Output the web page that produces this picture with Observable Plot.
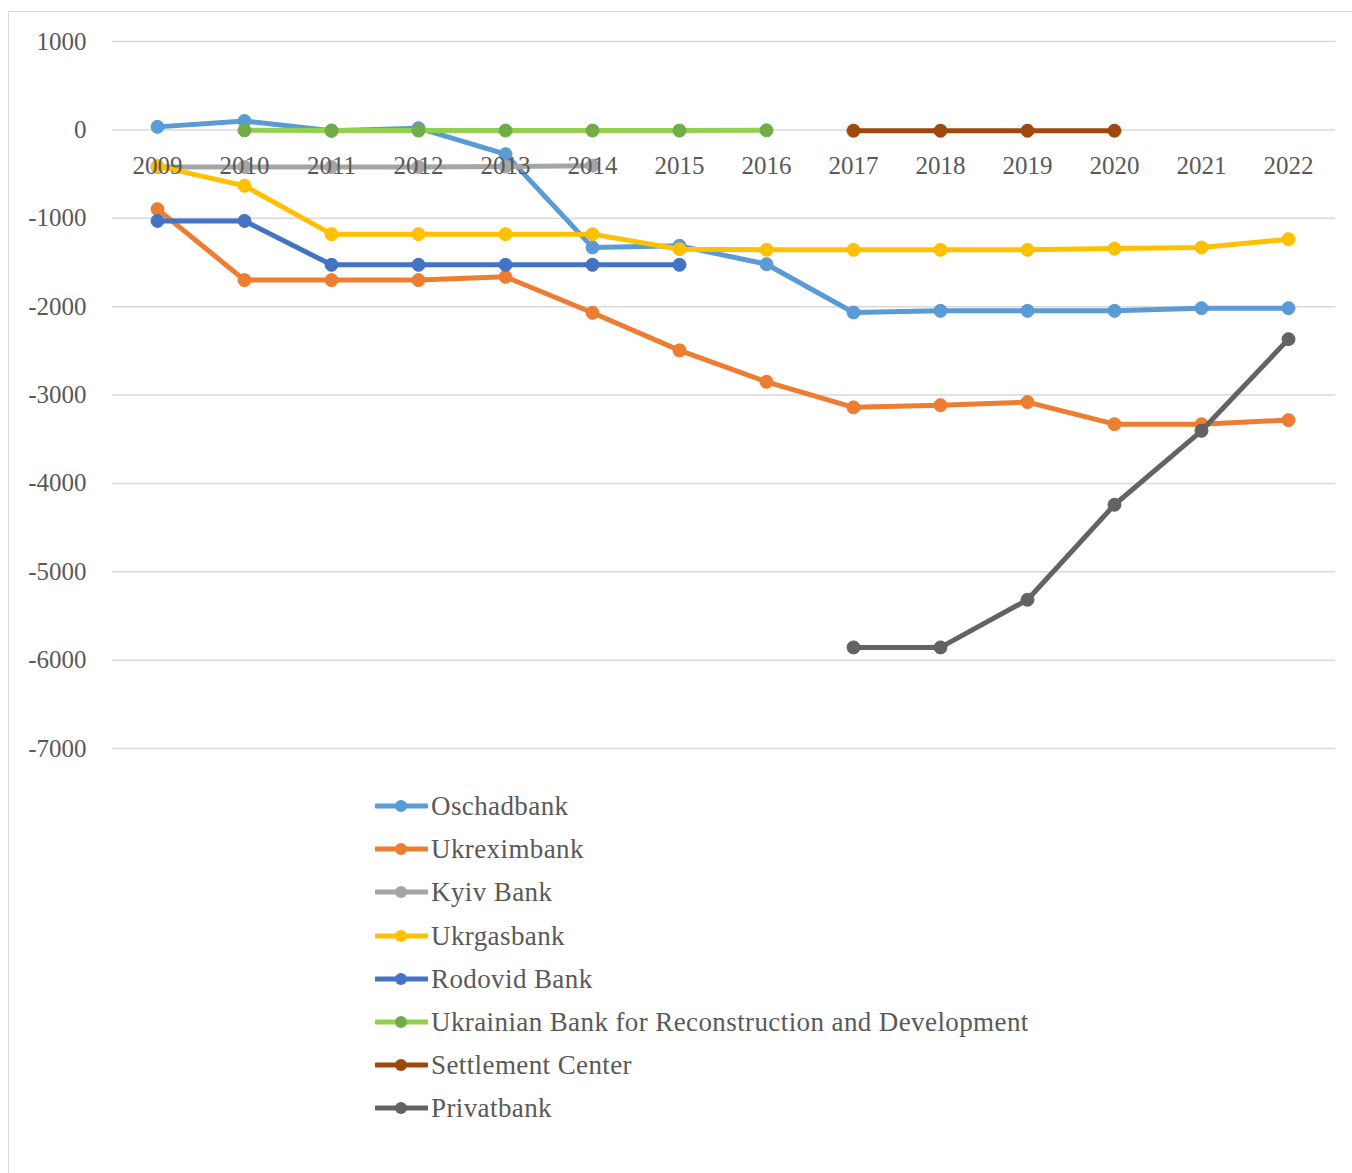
<!DOCTYPE html>
<html>
<head>
<meta charset="utf-8">
<script src="https://cdn.jsdelivr.net/npm/d3@7"></script>
<script src="https://cdn.jsdelivr.net/npm/@observablehq/plot@0.6"></script>
<style>
  html, body { margin: 0; padding: 0; background: #fff; overflow: hidden; }
  body { width: 1352px; height: 1173px; position: relative; font-family: "Liberation Serif", serif; }
  #frame { position: absolute; left: 8px; top: 11px; width: 1400px; height: 1250px; border: 1.5px solid #d9d9d9; box-sizing: border-box; }
  #chart { position: absolute; left: 0; top: 0; }
  #legend { position: absolute; left: 0; top: 0; }
  .lg { position: absolute; left: 375px; height: 28px; display: flex; align-items: center; white-space: nowrap; }
  .lg span { font-size: 27px; letter-spacing: 0.4px; color: #595959; margin-left: 3px; line-height: 28px; }
</style>
</head>
<body>
<div id="frame"></div>
<div id="chart"></div>
<div id="legend"></div>
<script>
const years = [2009, 2010, 2011, 2012, 2013, 2014, 2015, 2016, 2017, 2018, 2019, 2020, 2021, 2022];
const yTicks = [1000, 0, -1000, -2000, -3000, -4000, -5000, -6000, -7000];

const bankNames = ["Oschadbank", "Ukreximbank", "Kyiv Bank", "Ukrgasbank", "Rodovid Bank",
  "Ukrainian Bank for Reconstruction and Development", "Settlement Center", "Privatbank"];
const lineColors = ["#5B9BD5", "#ED7D31", "#A5A5A5", "#FFC000", "#4472C4", "#92D050", "#9E480E", "#636363"];
const markerColors = ["#5B9BD5", "#ED7D31", "#A5A5A5", "#FFC000", "#4472C4", "#70AD47", "#9E480E", "#636363"];

const oschadbank  = [34, 100, -11, 19, -275, -1330, -1312, -1520, -2066, -2048, -2048, -2048, -2017, -2017];
const ukreximbank = [-897, -1700, -1700, -1700, -1663, -2070, -2495, -2851, -3140, -3115, -3080, -3330, -3330, -3284];
const kyivBank    = [-420, -420, -420, -420, -415, -405, null, null, null, null, null, null, null, null];
const ukrgasbank  = [-410, -633, -1180, -1180, -1180, -1180, -1350, -1357, -1357, -1357, -1357, -1343, -1331, -1237];
const rodovidBank = [-1030, -1030, -1527, -1527, -1527, -1527, -1527, null, null, null, null, null, null, null];
const ubrd        = [null, -5, -8, -8, -8, -8, -8, -5, null, null, null, null, null, null];
const settlement  = [null, null, null, null, null, null, null, null, -10, -10, -10, -10, null, null];
const privatbank  = [null, null, null, null, null, null, null, null, -5856, -5856, -5317, -4242, -3405, -2368];

const seriesValues = [oschadbank, ukreximbank, kyivBank, ukrgasbank, rodovidBank, ubrd, settlement, privatbank];

const seriesMarks = [];
seriesValues.forEach((vals, i) => {
  const rows = years.map((year, j) => ({year, value: vals[j]})).filter(d => d.value !== null);
  seriesMarks.push(Plot.line(rows, {x: "year", y: "value", stroke: lineColors[i], strokeWidth: 5, strokeLinejoin: "round", strokeLinecap: "round"}));
  seriesMarks.push(Plot.dot(rows, {x: "year", y: "value", r: 6.5, fill: markerColors[i], stroke: markerColors[i], strokeWidth: 1}));
});

const chart = Plot.plot({
  width: 1352,
  height: 790,
  marginLeft: 112,
  marginRight: 17,
  marginTop: 41,
  marginBottom: 42,
  style: {fontFamily: "Liberation Serif", fontSize: "25px", color: "#595959", background: "transparent"},
  x: {type: "point", domain: years, range: [155, 1290], padding: 0, axis: null},
  y: {domain: [-7000, 1000], axis: null},
  marks: [
    Plot.ruleY(yTicks, {stroke: "#d9d9d9", strokeWidth: 1.5}),
    Plot.axisY({ticks: yTicks, tickSize: 0, tickPadding: 26, tickFormat: d => String(d), fontSize: 25, label: null}),
    ...seriesMarks,
    Plot.text(years, {x: d => d, y: () => 0, text: d => String(d), dy: 36, fontSize: 25, fill: "#595959"})
  ]
});
document.getElementById("chart").appendChild(chart);

const legend = document.getElementById("legend");
bankNames.forEach((name, i) => {
  const cy = 806 + i * 43.2;
  const row = document.createElement("div");
  row.className = "lg";
  row.style.top = (cy - 14) + "px";
  row.innerHTML = `<svg width="53" height="28"><line x1="1" y1="14" x2="52" y2="14" stroke="${lineColors[i]}" stroke-width="5" stroke-linecap="round"/><circle cx="26" cy="14" r="6" fill="${markerColors[i]}"/></svg><span>${name}</span>`;
  legend.appendChild(row);
});
</script>
</body>
</html>
